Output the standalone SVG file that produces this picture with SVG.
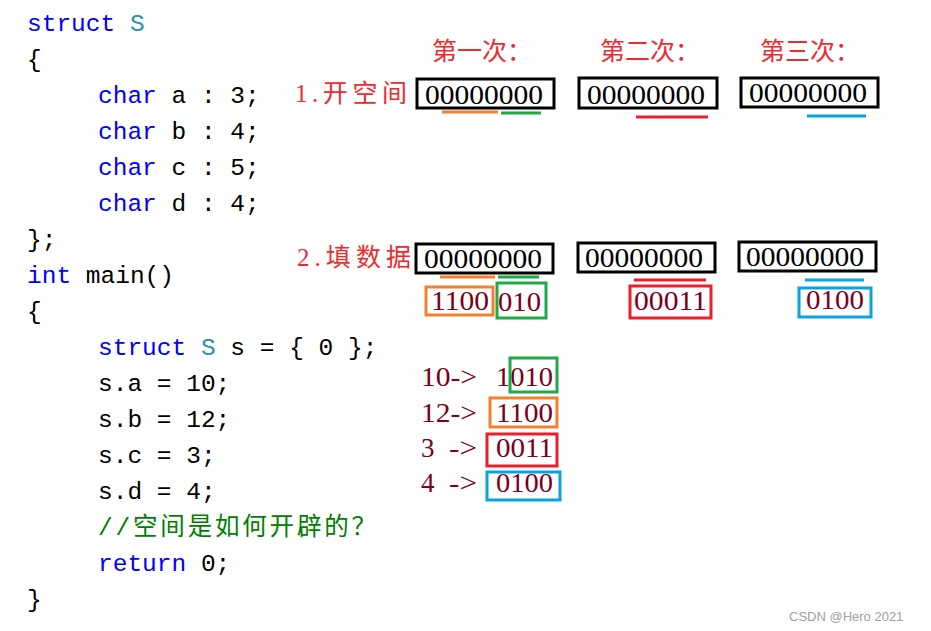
<svg xmlns="http://www.w3.org/2000/svg" width="931" height="631" viewBox="0 0 931 631">
<style>
.code{font-family:"Liberation Mono","Noto Sans CJK SC",monospace;font-size:24.5px;fill:#000}
.kw{fill:#0000FF}
.ty{fill:#2B91AF}
.cm{fill:#008000;font-family:"Liberation Mono","Noto Sans CJK SC",monospace}
.lbl{font-family:"Liberation Serif","Noto Sans CJK SC",serif;font-size:25px;fill:#EE2A2F}
.bits{font-family:"Liberation Serif",serif;font-size:28px;fill:#000}
.val{font-family:"Liberation Serif",serif;font-size:27px;fill:#7A0020}
.box{fill:none;stroke:#000;stroke-width:3}
.u{stroke-width:3}
.or{stroke:#F5802A}
.gr{stroke:#1EAA48}
.rd{stroke:#E8202A}
.bl{stroke:#0AA2E0}
.cb{fill:none;stroke-width:3}
.wm{font-family:"Liberation Sans",sans-serif;font-size:13px;fill:#A0A0A0}
</style>
<rect width="931" height="631" fill="#fff"/>
<g id="code">
<text class="code" x="27" y="31"><tspan class="kw">struct</tspan> <tspan class="ty">S</tspan></text>
<text class="code" x="27" y="67">{</text>
<text class="code" x="98" y="103"><tspan class="kw">char</tspan> a : 3;</text>
<text class="code" x="98" y="139"><tspan class="kw">char</tspan> b : 4;</text>
<text class="code" x="98" y="175"><tspan class="kw">char</tspan> c : 5;</text>
<text class="code" x="98" y="211"><tspan class="kw">char</tspan> d : 4;</text>
<text class="code" x="27" y="247">};</text>
<text class="code" x="27" y="283"><tspan class="kw">int</tspan> main()</text>
<text class="code" x="27" y="319">{</text>
<text class="code" x="98" y="355"><tspan class="kw">struct</tspan> <tspan class="ty">S</tspan> s = { 0 };</text>
<text class="code" x="98" y="391">s.a = 10;</text>
<text class="code" x="98" y="427">s.b = 12;</text>
<text class="code" x="98" y="463">s.c = 3;</text>
<text class="code" x="98" y="499">s.d = 4;</text>
<text class="code cm" x="98" y="535" textLength="278" lengthAdjust="spacing">//空间是如何开辟的？</text>
<text class="code" x="98" y="571"><tspan class="kw">return</tspan> 0;</text>
<text class="code" x="27" y="607">}</text>
</g>
<g id="headers">
<text class="lbl" x="432" y="60">第一次：</text>
<text class="lbl" x="600" y="60">第二次：</text>
<text class="lbl" x="760" y="60">第三次：</text>
</g>
<g id="step1">
<text class="lbl" x="295" y="102" textLength="112">1.开空间</text>
<rect class="box" x="417" y="79" width="137" height="29"/>
<text class="bits" x="425" y="104" textLength="118" lengthAdjust="spacingAndGlyphs">00000000</text>
<rect class="box" x="579" y="78" width="138" height="30"/>
<text class="bits" x="587" y="104" textLength="118" lengthAdjust="spacingAndGlyphs">00000000</text>
<rect class="box" x="741" y="78" width="137" height="29"/>
<text class="bits" x="749" y="102" textLength="118" lengthAdjust="spacingAndGlyphs">00000000</text>
<line class="u or" x1="442" y1="112" x2="498" y2="112"/>
<line class="u gr" x1="501" y1="113" x2="541" y2="113"/>
<line class="u rd" x1="636" y1="117" x2="708" y2="117"/>
<line class="u bl" x1="807" y1="116" x2="866" y2="116"/>
</g>
<g id="step2">
<text class="lbl" x="297" y="266" textLength="114">2.填数据</text>
<rect class="box" x="416" y="244" width="137" height="29"/>
<text class="bits" x="424" y="268" textLength="118" lengthAdjust="spacingAndGlyphs">00000000</text>
<rect class="box" x="578" y="243" width="137" height="29"/>
<text class="bits" x="585" y="267" textLength="118" lengthAdjust="spacingAndGlyphs">00000000</text>
<rect class="box" x="739" y="242" width="137" height="29"/>
<text class="bits" x="746" y="266" textLength="118" lengthAdjust="spacingAndGlyphs">00000000</text>
<line class="u or" x1="440" y1="277" x2="495" y2="277"/>
<line class="u gr" x1="498" y1="277" x2="539" y2="277"/>
<line class="u rd" x1="634" y1="280" x2="706" y2="280"/>
<line class="u bl" x1="805" y1="280" x2="864" y2="280"/>
<rect class="cb or" x="426" y="287" width="67" height="28"/>
<text class="val" x="431" y="310" textLength="58" lengthAdjust="spacingAndGlyphs">1100</text>
<rect class="cb gr" x="497" y="283" width="49" height="35"/>
<text class="val" x="498" y="311" textLength="43" lengthAdjust="spacingAndGlyphs">010</text>
<rect class="cb rd" x="630" y="286" width="81" height="32"/>
<text class="val" x="634" y="310" textLength="73" lengthAdjust="spacingAndGlyphs">00011</text>
<rect class="cb bl" x="799" y="288" width="72" height="29"/>
<text class="val" x="806" y="309" textLength="58" lengthAdjust="spacingAndGlyphs">0100</text>
</g>
<g id="conversions">
<text class="val" x="421" y="386" textLength="56" lengthAdjust="spacingAndGlyphs">10-&gt;</text>
<text class="val" x="496" y="386" textLength="57" lengthAdjust="spacingAndGlyphs">1010</text>
<rect class="cb gr" x="510" y="358" width="47" height="34"/>
<text class="val" x="421" y="422" textLength="56" lengthAdjust="spacingAndGlyphs">12-&gt;</text>
<text class="val" x="496" y="422" textLength="57" lengthAdjust="spacingAndGlyphs">1100</text>
<rect class="cb or" x="490" y="398" width="67" height="29"/>
<text class="val" x="421" y="457">3</text>
<text class="val" x="449" y="457" textLength="28" lengthAdjust="spacingAndGlyphs">-&gt;</text>
<text class="val" x="496" y="457" textLength="57" lengthAdjust="spacingAndGlyphs">0011</text>
<rect class="cb rd" x="487" y="434" width="70" height="32"/>
<text class="val" x="421" y="492">4</text>
<text class="val" x="449" y="492" textLength="28" lengthAdjust="spacingAndGlyphs">-&gt;</text>
<text class="val" x="496" y="492" textLength="57" lengthAdjust="spacingAndGlyphs">0100</text>
<rect class="cb bl" x="487" y="472" width="73" height="28"/>
</g>
<text class="wm" x="789" y="621">CSDN @Hero 2021</text>
</svg>
